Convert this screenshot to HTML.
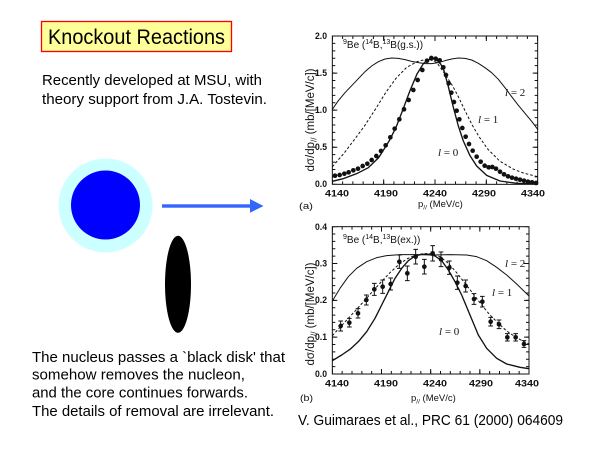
<!DOCTYPE html>
<html><head><meta charset="utf-8">
<style>html,body{margin:0;padding:0;background:#fff;width:600px;height:450px;overflow:hidden}svg{display:block}</style>
</head><body>
<svg width="600" height="450" viewBox="0 0 600 450" xmlns="http://www.w3.org/2000/svg" font-family="'Liberation Sans', Arial, sans-serif">
<rect width="600" height="450" fill="#fff"/>

<!-- Title -->
<rect x="41.5" y="21.5" width="190" height="30" fill="#ffff99" stroke="#ff0000" stroke-width="1.3"/>
<text x="48" y="44" font-size="21" textLength="177" lengthAdjust="spacingAndGlyphs">Knockout Reactions</text>

<text x="42" y="85" font-size="15" textLength="220" lengthAdjust="spacingAndGlyphs">Recently developed at MSU, with</text>
<text x="42" y="104" font-size="15" textLength="225" lengthAdjust="spacingAndGlyphs">theory support from J.A. Tostevin.</text>

<!-- Illustration -->
<circle cx="105.5" cy="205.5" r="47" fill="#ccffff"/>
<circle cx="105.5" cy="205" r="34.5" fill="#0000ff"/>
<rect x="162" y="204.3" width="89" height="3.4" fill="#3366ff"/>
<polygon points="250,199 263.5,206 250,212.7" fill="#3366ff"/>
<ellipse cx="178" cy="284.3" rx="13" ry="48.5" fill="#000"/>

<text x="32" y="362" font-size="15" textLength="253" lengthAdjust="spacingAndGlyphs">The nucleus passes a `black disk' that</text>
<text x="32" y="379.5" font-size="15" textLength="213" lengthAdjust="spacingAndGlyphs">somehow removes the nucleon,</text>
<text x="32" y="397.5" font-size="15" textLength="216" lengthAdjust="spacingAndGlyphs">and the core continues forwards.</text>
<text x="32" y="416" font-size="15" textLength="242" lengthAdjust="spacingAndGlyphs">The details of removal are irrelevant.</text>

<text x="298" y="425" font-size="15" textLength="265" lengthAdjust="spacingAndGlyphs">V. Guimaraes et al., PRC 61 (2000) 064609</text>

<!-- ================= Chart A ================= -->
<g transform="translate(290,20) scale(0.333333)" fill="none" stroke="#111" stroke-width="3">
  <rect x="127" y="48" width="616" height="445"/>
  <line x1="127" y1="488.5" x2="743" y2="488.5" stroke-width="9" stroke-dasharray="3 27.8" stroke-dashoffset="1.5"/>
  <line x1="127" y1="485.5" x2="743" y2="485.5" stroke-width="15" stroke-dasharray="3 151" stroke-dashoffset="1.5"/>
  <line x1="127" y1="52.5" x2="743" y2="52.5" stroke-width="9" stroke-dasharray="3 27.8" stroke-dashoffset="1.5"/>
  <line x1="127" y1="55.5" x2="743" y2="55.5" stroke-width="15" stroke-dasharray="3 151" stroke-dashoffset="1.5"/>
  <line x1="131.5" y1="493" x2="131.5" y2="48" stroke-width="9" stroke-dasharray="3 19.25" stroke-dashoffset="1.5"/>
  <line x1="134.5" y1="493" x2="134.5" y2="48" stroke-width="15" stroke-dasharray="3 108.25" stroke-dashoffset="1.5"/>
  <line x1="738.5" y1="493" x2="738.5" y2="48" stroke-width="9" stroke-dasharray="3 19.25" stroke-dashoffset="1.5"/>
  <line x1="735.5" y1="493" x2="735.5" y2="48" stroke-width="15" stroke-dasharray="3 108.25" stroke-dashoffset="1.5"/>

  <!-- l=2 -->
  <polyline stroke-linejoin="round" points="127,268 145,242 165,218 185,197 205,176 225,155 245,138 265,125 285,117 305,114 325,115 345,119 365,124 385,128 405,131 425,131 445,128 465,122 485,117 505,114 525,115 545,120 565,130 585,143 605,158 625,178 645,203 665,230 685,256 705,280 725,304 743,328"/>
  <!-- l=1 dashed -->
  <polyline stroke-dasharray="8 6" stroke-linejoin="round" points="127,440 161,401 193,359 224,317 256,268 287,218 318,175 350,142 381,125 400,120 420,119 440,127 462,158 488,198 504,228 525,272 546,314 567,350 593,387 629,423 671,448 703,460 743,470"/>
  <!-- l=0 -->
  <polyline stroke-width="4" stroke-linejoin="round" points="127,484 160,476 200,461 235,443 266,413 298,362 318,322 339,268 360,212 381,162 400,131 415,119 428,116 440,120 452,132 462,152 475,200 490,262 505,318 520,363 540,407 560,438 590,466 630,483 680,490 743,492"/>

  <g fill="#111" stroke="none">
    <circle cx="135" cy="467" r="7"/><circle cx="149" cy="465" r="7"/><circle cx="163" cy="461" r="7"/><circle cx="176" cy="457" r="7"/><circle cx="190" cy="451" r="7"/><circle cx="204" cy="446" r="7"/><circle cx="218" cy="438" r="7"/><circle cx="232" cy="431" r="7"/><circle cx="245" cy="420" r="7"/><circle cx="259" cy="408" r="7"/><circle cx="273" cy="393" r="7"/><circle cx="287" cy="376" r="7"/><circle cx="301" cy="352" r="7"/><circle cx="314" cy="326" r="7"/><circle cx="328" cy="298" r="7"/><circle cx="342" cy="268" r="7"/><circle cx="356" cy="240" r="7"/><circle cx="370" cy="210" r="7"/><circle cx="383" cy="180" r="7"/><circle cx="397" cy="150" r="7"/><circle cx="411" cy="122" r="7"/><circle cx="424" cy="114" r="7"/>
    <circle cx="437" cy="116" r="7"/><circle cx="449" cy="121" r="7"/><circle cx="460" cy="142" r="7"/><circle cx="468" cy="165" r="7"/><circle cx="476" cy="190" r="7"/><circle cx="484" cy="218" r="7"/><circle cx="492" cy="246" r="7"/><circle cx="500" cy="272" r="7"/><circle cx="508" cy="298" r="7"/><circle cx="517" cy="324" r="7"/><circle cx="527" cy="350" r="7"/><circle cx="537" cy="372" r="7"/><circle cx="548" cy="392" r="7"/><circle cx="560" cy="410" r="7"/><circle cx="572" cy="425" r="7"/><circle cx="584" cy="437" r="7"/><circle cx="596" cy="442" r="7"/><circle cx="607" cy="441" r="7"/><circle cx="618" cy="446" r="7"/><circle cx="630" cy="455" r="7"/><circle cx="642" cy="463" r="7"/><circle cx="654" cy="469" r="7"/><circle cx="666" cy="473" r="7"/><circle cx="678" cy="476" r="7"/><circle cx="690" cy="479" r="7"/><circle cx="702" cy="482" r="7"/><circle cx="714" cy="485" r="7"/><circle cx="726" cy="487" r="7"/><circle cx="738" cy="489" r="7"/>
  </g>
</g>

<g fill="#111">
  <g font-size="9" font-weight="bold" text-anchor="end">
    <text x="327" y="39" textLength="12" lengthAdjust="spacingAndGlyphs">2.0</text>
    <text x="327" y="76" textLength="12" lengthAdjust="spacingAndGlyphs">1.5</text>
    <text x="327" y="113" textLength="12" lengthAdjust="spacingAndGlyphs">1.0</text>
    <text x="327" y="150" textLength="12" lengthAdjust="spacingAndGlyphs">0.5</text>
    <text x="327" y="187" textLength="12" lengthAdjust="spacingAndGlyphs">0.0</text>
  </g>
  <g font-size="9" font-weight="bold">
    <text x="325" y="196.5" textLength="24" lengthAdjust="spacingAndGlyphs">4140</text>
    <text x="374" y="196.5" textLength="24" lengthAdjust="spacingAndGlyphs">4190</text>
    <text x="423" y="196.5" textLength="24" lengthAdjust="spacingAndGlyphs">4240</text>
    <text x="472" y="196.5" textLength="24" lengthAdjust="spacingAndGlyphs">4290</text>
    <text x="521" y="196.5" textLength="24" lengthAdjust="spacingAndGlyphs">4340</text>
  </g>
  <text x="343" y="48" font-size="10"><tspan font-size="7" dy="-4">9</tspan><tspan dy="4">Be (</tspan><tspan font-size="7" dy="-4">14</tspan><tspan dy="4">B,</tspan><tspan font-size="7" dy="-4">13</tspan><tspan dy="4">B(g.s.))</tspan></text>
  <text transform="translate(314,120) rotate(-90)" text-anchor="middle" font-size="11.5">dσ/dp<tspan font-size="8" dy="2.5">//</tspan><tspan dy="-2.5"> (mb/[MeV/c])</tspan></text>
  <text x="299" y="209" font-size="9" textLength="14" lengthAdjust="spacingAndGlyphs">(a)</text>
  <text x="418" y="207" font-size="9.5">p<tspan font-size="6.5" dy="2.5">//</tspan><tspan dy="-2.5"> (MeV/c)</tspan></text>
  <g font-family="'Liberation Serif', serif" font-size="11">
    <text x="505" y="96"><tspan font-style="italic">l</tspan> = 2</text>
    <text x="478" y="123"><tspan font-style="italic">l</tspan> = 1</text>
    <text x="438" y="156"><tspan font-style="italic">l</tspan> = 0</text>
  </g>
</g>

<!-- ================= Chart B ================= -->
<g transform="translate(290,220) scale(0.333333)" fill="none" stroke="#111" stroke-width="3">
  <rect x="127" y="20" width="590" height="442"/>
  <line x1="127" y1="457.5" x2="717" y2="457.5" stroke-width="9" stroke-dasharray="3 26.5" stroke-dashoffset="1.5"/>
  <line x1="127" y1="454.5" x2="717" y2="454.5" stroke-width="15" stroke-dasharray="3 144.5" stroke-dashoffset="1.5"/>
  <line x1="127" y1="24.5" x2="717" y2="24.5" stroke-width="9" stroke-dasharray="3 26.5" stroke-dashoffset="1.5"/>
  <line x1="127" y1="27.5" x2="717" y2="27.5" stroke-width="15" stroke-dasharray="3 144.5" stroke-dashoffset="1.5"/>
  <line x1="131.5" y1="462" x2="131.5" y2="20" stroke-width="9" stroke-dasharray="3 19.1" stroke-dashoffset="1.5"/>
  <line x1="134.5" y1="462" x2="134.5" y2="20" stroke-width="15" stroke-dasharray="3 107.5" stroke-dashoffset="1.5"/>
  <line x1="712.5" y1="462" x2="712.5" y2="20" stroke-width="9" stroke-dasharray="3 19.1" stroke-dashoffset="1.5"/>
  <line x1="709.5" y1="462" x2="709.5" y2="20" stroke-width="15" stroke-dasharray="3 107.5" stroke-dashoffset="1.5"/>

  <!-- l=2 -->
  <polyline stroke-linejoin="round" points="127,243 150,205 175,170 200,145 230,125 260,113 290,107 330,104 380,104 430,105 480,104 530,105 560,110 590,122 620,142 650,165 680,192 717,228"/>
  <!-- l=1 dashed -->
  <polyline stroke-dasharray="8 6" stroke-linejoin="round" points="127,347 150,322 175,295 200,268 225,240 250,212 275,184 300,158 325,135 350,117 375,106 400,101 425,101 450,110 475,130 500,158 525,190 550,222 575,255 600,285 625,310 650,333 675,350 700,364 717,372"/>
  <!-- l=0 -->
  <polyline stroke-width="4" stroke-linejoin="round" points="127,422 155,405 180,388 205,365 230,335 255,295 275,255 295,215 315,175 335,145 355,122 375,108 395,103 415,103 435,108 455,122 475,150 495,185 515,225 540,285 565,345 590,385 620,415 650,432 690,442 717,446"/>

  <!-- error bars -->
  <path stroke-width="3" d="M152 303V333M145 303h14M145 333h14M178 295V321M171 295h14M171 321h14M204 266V294M197 266h14M197 294h14M229 225V255M222 225h14M222 255h14M253 190V226M246 190h14M246 226h14M278 180V220M271 180h14M271 220h14M302 174V210M295 174h14M295 210h14M328 105V145M321 105h14M321 145h14M352 138V182M345 138h14M345 182h14M377 88V132M370 88h14M370 132h14M403 118V162M396 118h14M396 162h14M428 77V123M421 77h14M421 123h14M453 96V140M446 96h14M446 140h14M478 123V163M471 123h14M471 163h14M502 168V208M495 168h14M495 208h14M527 180V216M520 180h14M520 216h14M552 221V253M545 221h14M545 253h14M577 229V261M570 229h14M570 261h14M602 292V318M595 292h14M595 318h14M627 300V326M620 300h14M620 326h14M652 341V363M645 341h14M645 363h14M677 341V363M670 341h14M670 363h14M702 362V382M695 362h14M695 382h14"/>
  <g fill="#111" stroke="none">
    <circle cx="152" cy="318" r="7"/><circle cx="178" cy="308" r="7"/><circle cx="204" cy="280" r="7"/><circle cx="229" cy="240" r="7"/><circle cx="253" cy="208" r="7"/><circle cx="278" cy="200" r="7"/><circle cx="302" cy="192" r="7"/><circle cx="328" cy="125" r="7"/><circle cx="352" cy="160" r="7"/><circle cx="377" cy="110" r="7"/><circle cx="403" cy="140" r="7"/><circle cx="428" cy="100" r="7"/><circle cx="453" cy="118" r="7"/><circle cx="478" cy="143" r="7"/><circle cx="502" cy="188" r="7"/><circle cx="527" cy="198" r="7"/><circle cx="552" cy="237" r="7"/><circle cx="577" cy="245" r="7"/><circle cx="602" cy="305" r="7"/><circle cx="627" cy="313" r="7"/><circle cx="652" cy="352" r="7"/><circle cx="677" cy="352" r="7"/><circle cx="702" cy="372" r="7"/>
  </g>
</g>

<g fill="#111">
  <g font-size="9" font-weight="bold" text-anchor="end">
    <text x="327" y="230" textLength="12" lengthAdjust="spacingAndGlyphs">0.4</text>
    <text x="327" y="266.5" textLength="12" lengthAdjust="spacingAndGlyphs">0.3</text>
    <text x="327" y="303" textLength="12" lengthAdjust="spacingAndGlyphs">0.2</text>
    <text x="327" y="340" textLength="12" lengthAdjust="spacingAndGlyphs">0.1</text>
    <text x="327" y="377" textLength="12" lengthAdjust="spacingAndGlyphs">0.0</text>
  </g>
  <g font-size="9" font-weight="bold">
    <text x="325" y="386.5" textLength="24" lengthAdjust="spacingAndGlyphs">4140</text>
    <text x="374" y="386.5" textLength="24" lengthAdjust="spacingAndGlyphs">4190</text>
    <text x="423" y="386.5" textLength="24" lengthAdjust="spacingAndGlyphs">4240</text>
    <text x="469" y="386.5" textLength="24" lengthAdjust="spacingAndGlyphs">4290</text>
    <text x="515" y="386.5" textLength="24" lengthAdjust="spacingAndGlyphs">4340</text>
  </g>
  <text x="343" y="243" font-size="10"><tspan font-size="7" dy="-4">9</tspan><tspan dy="4">Be (</tspan><tspan font-size="7" dy="-4">14</tspan><tspan dy="4">B,</tspan><tspan font-size="7" dy="-4">13</tspan><tspan dy="4">B(ex.))</tspan></text>
  <text transform="translate(314,314) rotate(-90)" text-anchor="middle" font-size="11.5">dσ/dp<tspan font-size="8" dy="2.5">//</tspan><tspan dy="-2.5"> (mb/[MeV/c])</tspan></text>
  <text x="300" y="401" font-size="9" textLength="13" lengthAdjust="spacingAndGlyphs">(b)</text>
  <text x="411" y="401" font-size="9.5">p<tspan font-size="6.5" dy="2.5">//</tspan><tspan dy="-2.5"> (MeV/c)</tspan></text>
  <g font-family="'Liberation Serif', serif" font-size="11">
    <text x="505" y="267"><tspan font-style="italic">l</tspan> = 2</text>
    <text x="492" y="296"><tspan font-style="italic">l</tspan> = 1</text>
    <text x="439" y="335"><tspan font-style="italic">l</tspan> = 0</text>
  </g>
</g>
</svg>
</body></html>
